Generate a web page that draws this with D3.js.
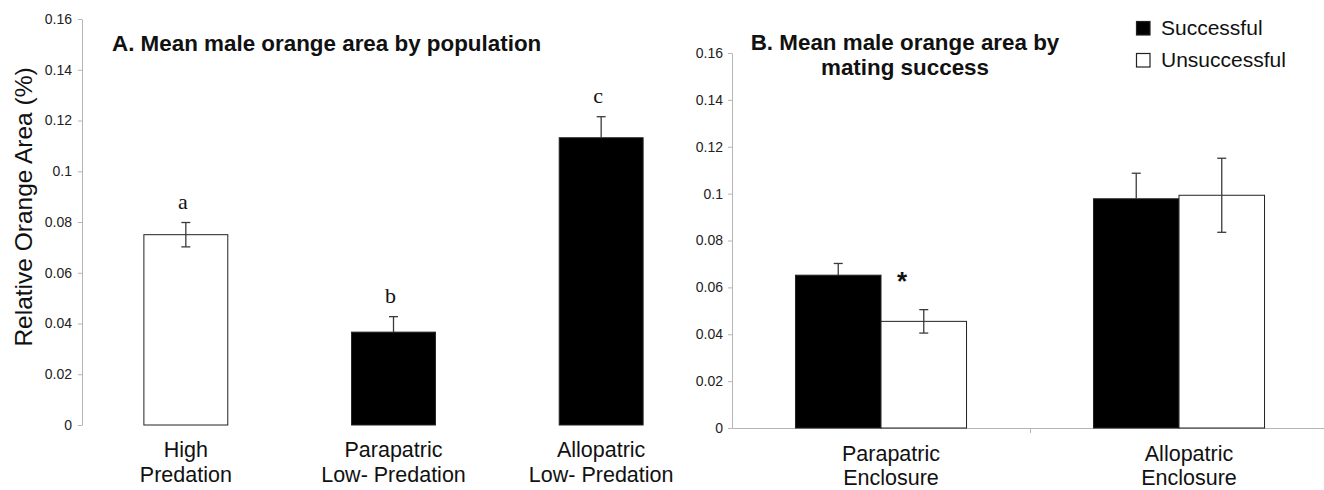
<!DOCTYPE html>
<html>
<head>
<meta charset="utf-8">
<script src="https://cdn.jsdelivr.net/npm/d3@7"></script>
<style>
  html, body { margin: 0; padding: 0; background: #fff; }
  svg { display: block; font-family: "Liberation Sans", Arial, sans-serif; }
</style>
</head>
<body>
<svg id="chart" width="1324" height="490"></svg>
<script>
// ---------- DATA ----------
const categoriesA = [["High", "Predation"], ["Parapatric", "Low- Predation"], ["Allopatric", "Low- Predation"]];
const meansA = [0.075, 0.0366, 0.1132];
const errorsA = [0.0048, 0.0061, 0.0083];
const fillsA = ["white", "black", "black"];
const lettersA = ["a", "b", "c"];

const categoriesB = [["Parapatric", "Enclosure"], ["Allopatric", "Enclosure"]];
const seriesB = ["Successful", "Unsuccessful"];
const successfulMeans = [0.0652, 0.0978];
const successfulErrors = [0.0050, 0.0109];
const unsuccessfulMeans = [0.0455, 0.0993];
const unsuccessfulErrors = [0.0050, 0.0158];
const seriesFills = ["black", "white"];

const yTicks = [0, 0.02, 0.04, 0.06, 0.08, 0.1, 0.12, 0.14, 0.16];
const titleA = "A. Mean male orange area by population";
const titleB = ["B. Mean male orange area by", "mating success"];
const yLabel = "Relative Orange Area (%)";
const significance = "*";

// ---------- SETUP ----------
const svg = d3.select("#chart");
const axisGray = "#b5b5b5";
const errColor = "#3a3a3a";
const fmt = d => d === 0 ? "0" : String(+d.toFixed(2));

function styleYAxis(g) {
  g.select(".domain").attr("stroke", axisGray).attr("stroke-width", 1);
  g.selectAll(".tick line").attr("stroke", axisGray);
  g.selectAll(".tick text").attr("fill", "#222").style("font-size", "14px")
    .style("font-family", "Liberation Sans, Arial, sans-serif");
}
function styleXAxis(g) {
  g.select(".domain").attr("stroke", axisGray).attr("stroke-width", 1.2);
  g.selectAll(".tick line").attr("stroke", axisGray);
}

function errorBar(g, cx, mean, se, yScale, fill) {
  const lo = fill === "black" ? mean : mean - se;
  const hi = mean + se;
  const cw = 4.5;
  g.append("line").attr("x1", cx).attr("x2", cx)
    .attr("y1", yScale(lo)).attr("y2", yScale(hi))
    .attr("stroke", errColor).attr("stroke-width", 1.3);
  g.append("line").attr("x1", cx - cw).attr("x2", cx + cw)
    .attr("y1", yScale(hi)).attr("y2", yScale(hi))
    .attr("stroke", errColor).attr("stroke-width", 1.3);
  if (fill !== "black") {
    g.append("line").attr("x1", cx - cw).attr("x2", cx + cw)
      .attr("y1", yScale(lo)).attr("y2", yScale(lo))
      .attr("stroke", errColor).attr("stroke-width", 1.3);
  }
}

// ---------- PANEL A ----------
const yA = d3.scaleLinear().domain([0, 0.16]).range([425, 19]);
const keysA = categoriesA.map(d => d.join(" "));
const xA = d3.scaleBand().domain(keysA).range([82, 705]).paddingInner(0.596).paddingOuter(0.298);

const pA = svg.append("g");
pA.append("g").attr("transform", "translate(82,0)")
  .call(d3.axisLeft(yA).tickValues(yTicks).tickFormat(fmt).tickSize(4).tickSizeOuter(0).tickPadding(6))
  .call(styleYAxis);

const clipA = svg.append("defs").append("clipPath").attr("id", "clipA");
clipA.append("rect").attr("x", 70).attr("y", 400).attr("width", 611).attr("height", 40);
const xAxisA = d3.scaleLinear().domain([0, keysA.length]).range([82, 705]);
pA.append("g").attr("clip-path", "url(#clipA)").attr("transform", "translate(0,425)")
  .call(d3.axisBottom(xAxisA).tickValues(d3.range(1, keysA.length)).tickFormat("").tickSize(5).tickSizeOuter(0))
  .call(styleXAxis);

pA.selectAll("rect.bar").data(meansA).join("rect").attr("class", "bar")
  .attr("x", (d, i) => xA(keysA[i]))
  .attr("width", xA.bandwidth())
  .attr("y", d => yA(d))
  .attr("height", d => yA(0) - yA(d))
  .attr("fill", (d, i) => fillsA[i])
  .attr("stroke", "#222").attr("stroke-width", 1);

meansA.forEach((m, i) => {
  const cx = xA(keysA[i]) + xA.bandwidth() / 2;
  errorBar(pA, cx, m, errorsA[i], yA, fillsA[i]);
  pA.append("text").attr("x", cx - 3).attr("y", yA(m + errorsA[i]) - 14)
    .attr("text-anchor", "middle")
    .style("font-family", "Liberation Serif, 'Times New Roman', serif")
    .style("font-size", "22px").attr("fill", "#111").text(lettersA[i]);
  categoriesA[i].forEach((line, j) => {
    pA.append("text").attr("x", cx).attr("y", 457 + j * 25)
      .attr("text-anchor", "middle").style("font-size", "21.5px").attr("fill", "#111").text(line);
  });
});

pA.append("text").attr("x", 112).attr("y", 51)
  .style("font-size", "22.4px").style("font-weight", "bold").attr("fill", "#111").text(titleA);

pA.append("text").attr("transform", "translate(32,207) rotate(-90)")
  .attr("text-anchor", "middle").style("font-size", "24.5px").attr("fill", "#111").text(yLabel);

// ---------- PANEL B ----------
const yB = d3.scaleLinear().domain([0, 0.16]).range([428, 53]);
const keysB = categoriesB.map(d => d.join(" "));
const xB0 = d3.scaleBand().domain(keysB).range([732, 1328]).paddingInner(0.426).paddingOuter(0.213);
const xB1 = d3.scaleBand().domain(seriesB).range([0, xB0.bandwidth()]).padding(0);
const meansB = [successfulMeans, unsuccessfulMeans];
const errorsB = [successfulErrors, unsuccessfulErrors];

const pB = svg.append("g");
pB.append("g").attr("transform", "translate(732,0)")
  .call(d3.axisLeft(yB).tickValues(yTicks).tickFormat(fmt).tickSize(4).tickSizeOuter(0).tickPadding(5))
  .call(styleYAxis);

const xAxisB = d3.scaleLinear().domain([0, keysB.length]).range([732, 1328]);
pB.append("g").attr("transform", "translate(0,428)")
  .call(d3.axisBottom(xAxisB).tickValues(d3.range(1, keysB.length)).tickFormat("").tickSize(5).tickSizeOuter(0))
  .call(styleXAxis);

seriesB.forEach((s, si) => {
  pB.selectAll("rect.bar" + si).data(meansB[si]).join("rect").attr("class", "bar" + si)
    .attr("x", (d, i) => xB0(keysB[i]) + xB1(s))
    .attr("width", xB1.bandwidth())
    .attr("y", d => yB(d))
    .attr("height", d => yB(0) - yB(d))
    .attr("fill", seriesFills[si])
    .attr("stroke", "#222").attr("stroke-width", 1);
});
seriesB.forEach((s, si) => {
  meansB[si].forEach((m, i) => {
    const cx = xB0(keysB[i]) + xB1(s) + xB1.bandwidth() / 2;
    errorBar(pB, cx, m, errorsB[si][i], yB, seriesFills[si]);
  });
});

categoriesB.forEach((lines, i) => {
  const cx = xB0(keysB[i]) + xB0.bandwidth() / 2;
  lines.forEach((line, j) => {
    pB.append("text").attr("x", cx + 10).attr("y", 461 + j * 24)
      .attr("text-anchor", "middle").style("font-size", "21.5px").attr("fill", "#111").text(line);
  });
});

// significance star
{
  const cx = xB0(keysB[0]) + xB0.bandwidth() / 2 + 21;
  pB.append("text").attr("x", cx).attr("y", yB(successfulMeans[0]) + 15)
    .attr("text-anchor", "middle").style("font-size", "26px").style("font-weight", "bold")
    .attr("fill", "#111").text(significance);
}

titleB.forEach((line, j) => {
  pB.append("text").attr("x", 905).attr("y", 50 + j * 25)
    .attr("text-anchor", "middle").style("font-size", "22.4px").style("font-weight", "bold")
    .attr("fill", "#111").text(line);
});

// legend
const leg = svg.append("g").attr("transform", "translate(1136,21)");
seriesB.forEach((s, si) => {
  const row = leg.append("g").attr("transform", `translate(0,${si * 32})`);
  row.append("rect").attr("x", 0.5).attr("y", 0.5).attr("width", 13.5).attr("height", 13.5)
    .attr("fill", seriesFills[si]).attr("stroke", "#222").attr("stroke-width", 1.2);
  row.append("text").attr("x", 25).attr("y", 13.5)
    .style("font-size", "21px").attr("fill", "#111").text(s);
});
</script>
</body>
</html>
